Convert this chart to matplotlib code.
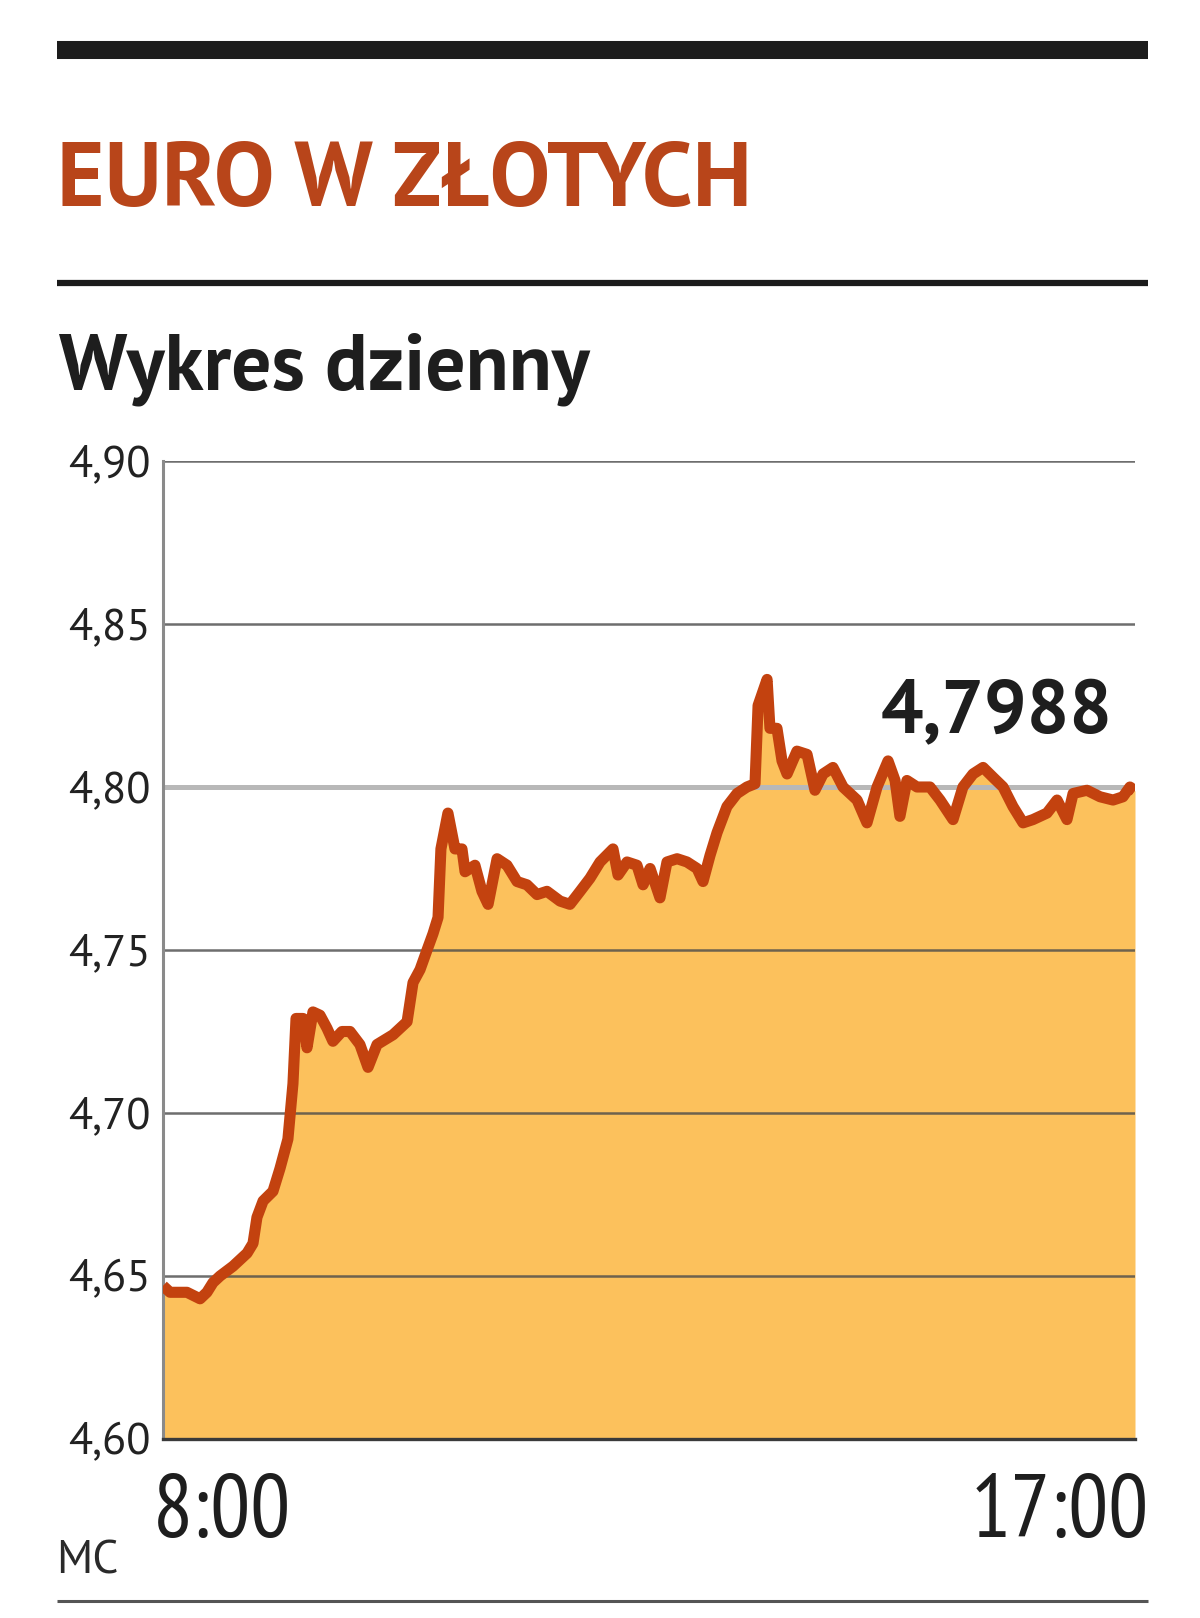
import matplotlib
matplotlib.use('Agg')
import matplotlib.pyplot as plt
from matplotlib import font_manager as fm
from matplotlib.lines import Line2D

# %% data (minutes after 8:00, EUR/PLN)
minutes = [0, 3.9, 13.3, 20.6, 24.4, 27.8, 31.7, 38.9, 46.7, 50.0,
           52.2, 55.6, 61.1, 65.0, 69.4, 72.2, 73.9, 77.8, 80.0, 83.3,
           87.2, 91.1, 94.4, 99.4, 103.9, 109.4, 113.9, 118.9, 127.8, 135.6,
           138.9, 142.8, 146.7, 150.0, 152.8, 154.4, 158.3, 162.2, 166.1, 167.8,
           173.3, 177.2, 180.6, 185.6, 191.1, 196.7, 202.2, 207.8, 213.3, 220.6,
           226.1, 231.7, 237.2, 242.8, 250.0, 252.8, 257.8, 263.3, 266.7, 270.6,
           276.1, 280.0, 285.6, 291.1, 296.7, 300.0, 303.9, 307.8, 313.3, 318.9,
           324.4, 328.9, 330.6, 335.6, 337.2, 341.1, 343.9, 346.7, 352.2, 357.8,
           362.2, 366.7, 372.2, 377.8, 385.6, 391.1, 396.7, 402.8, 406.7, 409.4,
           413.3, 418.9, 426.1, 431.7, 438.9, 444.4, 450.0, 455.6, 461.1, 466.7,
           472.2, 477.8, 483.3, 491.1, 496.7, 502.2, 505.6, 513.3, 520.6, 527.8,
           533.3, 537.2, 540.0]
rate = [4.647, 4.645, 4.645, 4.643, 4.645, 4.648, 4.650, 4.653, 4.657, 4.660,
        4.668, 4.673, 4.676, 4.683, 4.692, 4.709, 4.729, 4.729, 4.720, 4.731,
        4.730, 4.726, 4.722, 4.725, 4.725, 4.721, 4.714, 4.721, 4.724, 4.728,
        4.740, 4.744, 4.750, 4.755, 4.760, 4.781, 4.792, 4.781, 4.781, 4.774,
        4.776, 4.768, 4.764, 4.778, 4.776, 4.771, 4.770, 4.767, 4.768, 4.765,
        4.764, 4.768, 4.772, 4.777, 4.781, 4.773, 4.777, 4.776, 4.770, 4.775,
        4.766, 4.777, 4.778, 4.777, 4.775, 4.771, 4.779, 4.786, 4.794, 4.798,
        4.800, 4.801, 4.825, 4.833, 4.818, 4.818, 4.808, 4.804, 4.811, 4.810,
        4.799, 4.804, 4.806, 4.800, 4.796, 4.789, 4.800, 4.808, 4.802, 4.791,
        4.802, 4.800, 4.800, 4.796, 4.790, 4.800, 4.804, 4.806, 4.803, 4.800,
        4.794, 4.789, 4.790, 4.792, 4.796, 4.790, 4.798, 4.799, 4.797, 4.796,
        4.797, 4.800, 4.7988]

y_ticks = [4.60, 4.65, 4.70, 4.75, 4.80, 4.85, 4.90]
y_labels = ['4,60', '4,65', '4,70', '4,75', '4,80', '4,85', '4,90']
x_labels = ['8:00', '17:00']
last_value = '4,7988'
title = 'EURO W ZŁOTYCH'
subtitle = 'Wykres dzienny'
source = 'MC'

# %% fonts: take the first one that is installed
installed = {f.name for f in fm.fontManager.ttflist}


def pick(cands):
    for c in cands:
        if c in installed:
            return [c, 'DejaVu Sans']
    return ['DejaVu Sans']


NARROW = pick(['PT Sans Narrow', 'Roboto Condensed', 'Liberation Sans Narrow', 'Roboto'])
SANS = pick(['PT Sans', 'Lato', 'Open Sans'])

W, H = 1200, 1618
fill_col = '#FCC15C'
line_col = '#C3420F'
title_col = '#B8451A'


def fx(x):
    return x / W


def fy(y):
    return 1 - y / H


fig = plt.figure(figsize=(W / 100, H / 100), dpi=100)
renderer = fig.canvas.get_renderer()


def fit_width(t, target_px):
    # scale the font so that the text spans target_px
    w = t.get_window_extent(renderer).width
    t.set_fontsize(t.get_fontsize() * target_px / w)


ax = fig.add_axes([fx(163), fy(1439), 972 / W, 978 / H])

ax.fill_between(minutes, rate, y_ticks[0], color=fill_col, lw=0, zorder=1)

# horizontal grid, the 4,80 line is the light thick one
for v in y_ticks[1:]:
    if abs(v - 4.80) < 1e-9:
        ax.axhline(v, color='#b8b8b8', lw=3.6, zorder=2)
    else:
        ax.axhline(v, color='#4a4a4a', lw=1.8, alpha=0.8, zorder=2)

ax.plot(minutes, rate, color=line_col, lw=8, solid_joinstyle='round',
        solid_capstyle='butt', zorder=3)

ax.set_xlim(0, 540)
ax.set_ylim(4.60, 4.90)
ax.set_xticks([])
ax.set_yticks(y_ticks)
ax.set_yticklabels(y_labels, family=SANS, fontsize=32, color='#222222')
ax.tick_params(axis='y', length=0, pad=9)

for s in ['top', 'right']:
    ax.spines[s].set_visible(False)
ax.spines['left'].set_color('#8a8a8a')
ax.spines['left'].set_linewidth(2.2)
ax.spines['bottom'].set_color('#3a3a3a')
ax.spines['bottom'].set_linewidth(2.4)
ax.spines['bottom'].set_zorder(4)

# texts
t = fig.text(fx(57), fy(206), title, family=SANS, weight='bold', fontsize=66,
             color=title_col, va='baseline', ha='left')
fit_width(t, 694)
t = fig.text(fx(59), fy(390), subtitle, family=SANS, weight='bold',
             fontsize=56, color='#1e1e1e', va='baseline', ha='left')
fit_width(t, 530)
t = fig.text(fx(1113), fy(733), last_value, family=SANS, weight='bold', fontsize=62,
             color='#1e1e1e', va='baseline', ha='right')
fit_width(t, 232)
fig.text(fx(153), fy(1537), x_labels[0], family=NARROW, fontsize=64,
         color='#1e1e1e', va='baseline', ha='left')
fig.text(fx(1149), fy(1537), x_labels[1], family=NARROW, fontsize=64,
         color='#1e1e1e', va='baseline', ha='right')
fig.text(fx(56), fy(1573), source, family=SANS, fontsize=33,
         color='#2a2a2a', va='baseline', ha='left')

# rules
fig.add_artist(Line2D([fx(57), fx(1148)], [fy(50), fy(50)], lw=13,
                      color='#1b1b1b', solid_capstyle='butt'))
fig.add_artist(Line2D([fx(57), fx(1148)], [fy(283), fy(283)], lw=4.5,
                      color='#1b1b1b', solid_capstyle='butt'))
fig.add_artist(Line2D([fx(57), fx(1148)], [fy(1601), fy(1601)], lw=2.2,
                      color='#555555', solid_capstyle='butt'))

fig.savefig('out.png', dpi=100, facecolor='white')
